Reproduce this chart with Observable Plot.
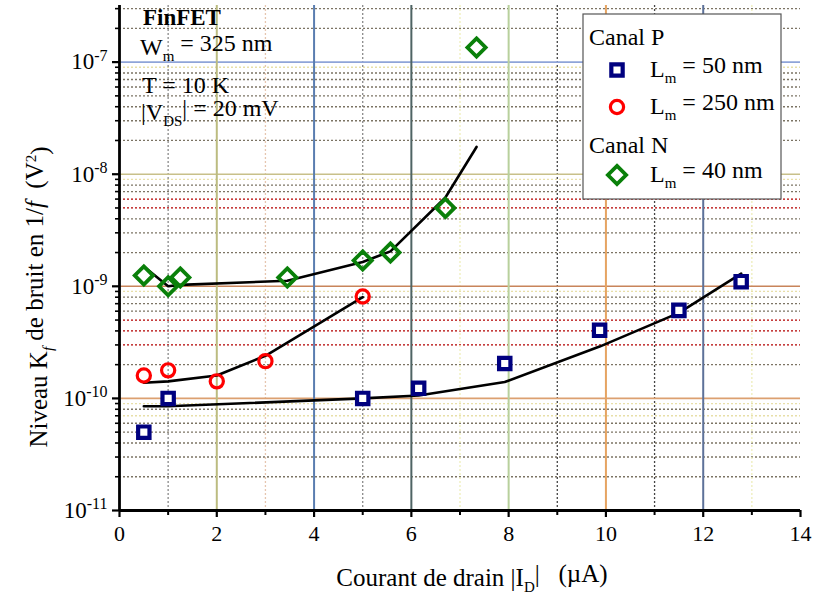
<!DOCTYPE html>
<html><head><meta charset="utf-8">
<script src="https://cdn.jsdelivr.net/npm/d3@7"></script>
<script src="https://cdn.jsdelivr.net/npm/@observablehq/plot@0.6"></script>
<style>
body{margin:0;background:#fff;}
#chart{position:relative;width:816px;height:605px;}
svg text{font-family:"Liberation Serif","Times New Roman",serif;}
</style></head><body><div id="chart"></div>
<script>
// ---- data ----
const xP50   = [0.5, 1.0, 5.0, 6.15, 7.92, 9.87, 11.5, 12.78];
const kP50   = [5.0e-11, 1.0e-10, 1.0e-10, 1.23e-10, 2.05e-10, 4.05e-10, 6.1e-10, 1.1e-9];
const fitP50 = [8.5e-11, 8.5e-11, 1.0e-10, 1.06e-10, 1.4e-10, 2.9e-10, 5.8e-10, 1.3e-9];

const xP250   = [0.5, 1.0, 2.0, 3.0, 5.0];
const kP250   = [1.6e-10, 1.78e-10, 1.42e-10, 2.15e-10, 8.1e-10];
const fitP250 = [1.38e-10, 1.42e-10, 1.6e-10, 2.4e-10, 8.0e-10];

const xN40   = [0.5, 1.0, 1.25, 3.45, 5.0, 5.57, 6.7, 7.34];
const kN40   = [1.25e-9, 1.0e-9, 1.2e-9, 1.2e-9, 1.7e-9, 2.0e-9, 5.0e-9, 1.35e-7];
const fitN40 = [1.5e-9, 1.0e-9, 1.03e-9, 1.12e-9, 1.65e-9, 2.05e-9, 6.2e-9, 1.75e-8];

const xTicks = [0, 2, 4, 6, 8, 10, 12, 14];
const xMinor = [1, 3, 5, 7, 9, 11, 13];
const yTicks = [1e-11, 1e-10, 1e-9, 1e-8, 1e-7];
const yDecades = [-11, -10, -9, -8, -7];
const mantissas = [2, 3, 4, 5, 6, 7, 8, 9];
const xGrid = [2, 4, 6, 8, 10, 12];
const yGrid = [1e-10, 1e-9, 1e-8, 1e-7];

const legendLabels = ["Canal P", "50 nm", "250 nm", "Canal N", "40 nm"];

// ---- derived tables ----
const yTop = 3.2e-7;
const yMinor = yDecades.flatMap(k => mantissas.map(m => +(m + "e" + k))).filter(v => v < yTop);
const rows = (xs, ks) => xs.map((x, i) => ({x, k: ks[i]}));
const p50 = rows(xP50, kP50), p50f = rows(xP50, fitP50);
const p250 = rows(xP250, kP250), p250f = rows(xP250, fitP250);
const n40 = rows(xN40, kN40), n40f = rows(xN40, fitN40);

// ---- styles ----
const xGridColor = {2:"#bcbc80", 4:"#5a7db0", 6:"#4f6464", 8:"#b8d09c", 10:"#e6a462", 12:"#5d7199"};
const yGridColor = {"-10":"#dca070", "-9":"#c8845a", "-8":"#c8c08a", "-7":"#8fa4d8"};
const xMinorColor = {1:"#8a8a8a", 3:"#e6c6b0", 5:"#8a8a8a", 7:"#eeeebb", 9:"#444", 11:"#444", 13:"#eeeebb"};
function minorStroke(v){
  const k = Math.floor(Math.log10(v) + 1e-9), m = Math.round(v / Math.pow(10, k));
  if (k === -10 && m >= 3 && m <= 5) return "#b40000";
  if (k === -9 && (m === 5 || m === 6)) return "#b40000";
  if (m === 9 || (k === -11 && m === 7)) return "#e8dfa8";
  return "#7c7464";
}
const NAVY = "#00007f", RED = "#ff0000", GREEN = "#0a800a";

const chart = Plot.plot({
  width: 816, height: 605,
  marginLeft: 119, marginRight: 16, marginTop: 5, marginBottom: 95,
  x: {domain: [0, 14], label: null},
  y: {type: "log", domain: [1e-11, yTop], label: null},
  color: {type: "identity"},
  style: {fontFamily: "Liberation Serif, Times New Roman, serif", fontSize: "22px", color: "#000", background: "#fff", overflow: "visible"},
  marks: [
    Plot.ruleY(yMinor, {stroke: d => minorStroke(d), strokeDasharray: "2,2", strokeWidth: 1.3}),
    Plot.ruleX(xMinor, {stroke: d => xMinorColor[d], strokeDasharray: "2,2", strokeWidth: 1.3}),
    Plot.ruleY(yGrid, {stroke: d => yGridColor[Math.round(Math.log10(d))], strokeWidth: 1.6}),
    Plot.ruleX(xGrid, {stroke: d => xGridColor[d], strokeWidth: 2}),
    Plot.line(p50f, {x: "x", y: "k", stroke: "#000", strokeWidth: 2.6}),
    Plot.line(p250f, {x: "x", y: "k", stroke: "#000", strokeWidth: 2.6}),
    Plot.line(n40f, {x: "x", y: "k", stroke: "#000", strokeWidth: 2.6}),
    Plot.dot(p50, {x: "x", y: "k", symbol: "square", r: 6.4, stroke: NAVY, strokeWidth: 4.2, fill: "#fff"}),
    Plot.dot(p250, {x: "x", y: "k", symbol: "circle", r: 6.6, stroke: RED, strokeWidth: 3.2, fill: "none"}),
    Plot.dot(n40, {x: "x", y: "k", symbol: "diamond2", r: 8.2, stroke: GREEN, strokeWidth: 3.8, fill: "none"}),
    Plot.ruleY([1e-11], {stroke: "#000", strokeWidth: 2.8}),
    Plot.ruleX([0], {stroke: "#000", strokeWidth: 2.8}),
    Plot.axisX(xTicks, {tickSize: 7, tickPadding: 8, strokeWidth: 2.2, fontSize: 22, label: null}),
    Plot.axisX(xMinor, {tickSize: 5, strokeWidth: 2, tickFormat: () => "", label: null}),
    Plot.axisY(yTicks, {tickSize: 7, tickPadding: 5, strokeWidth: 2.2, fontSize: 23, label: null,
      tickFormat: d => String(Math.round(Math.log10(d)))}),
    Plot.axisY(yMinor, {tickSize: 4, strokeWidth: 1.6, tickFormat: () => "", label: null})
  ]
});
document.getElementById("chart").appendChild(chart);

const svg = d3.select(chart);
// superscript exponents on y tick labels
svg.selectAll('g[aria-label="y-axis tick label"] text').each(function(){
  const t = d3.select(this); const e = t.text();
  if (!e) return;
  t.text("");
  t.append("tspan").text("10");
  t.append("tspan").attr("dy", "-0.55em").attr("font-size", "16px").text(e);
});

function addText(parent, x, y, parts, opts = {}){
  const t = parent.append("text").attr("x", x).attr("y", y)
    .attr("font-size", opts.size || 23).attr("fill", "#000")
    .attr("text-anchor", opts.anchor || "start")
    .style("white-space", "pre");
  if (opts.transform) t.attr("transform", opts.transform);
  if (opts.weight) t.attr("font-weight", opts.weight);
  let shift = 0;
  for (const p of parts){
    const s = t.append("tspan").text(p.t);
    const target = p.sub ? 0.4 : p.sup ? -0.45 : 0;
    if (target !== shift){ s.attr("dy", (target - shift) + "em"); }
    shift = target;
    if (p.sub || p.sup) s.attr("font-size", p.fs || "15px");
    if (p.it) s.attr("font-style", "italic");
  }
  return t;
}

// axis titles
addText(svg, 0, 0, [
  {t: "Niveau K"}, {t: "f", sub: true, it: true}, {t: " de bruit en 1/"}, {t: "f", it: true},
  {t: "  (V"}, {t: "2", sup: true}, {t: ")"}
], {size: 25, anchor: "middle", transform: "translate(47,297) rotate(-90)"});

addText(svg, 472, 586, [
  {t: "Courant de drain |I"}, {t: "D", sub: true}, {t: "|   (\u00b5A)"}
], {size: 25, anchor: "middle"});

// annotation
addText(svg, 143, 25, [{t: "FinFET"}], {size: 23, weight: "bold"});
addText(svg, 140, 55, [{t: "W"}, {t: "m", sub: true}, {t: " = 325 nm"}], {size: 24});
addText(svg, 142, 93, [{t: "T = 10 K"}], {size: 24});
addText(svg, 141, 120, [{t: "|V"}, {t: "DS", sub: true}, {t: "| = 20 mV"}], {size: 24});

// legend
const lg = svg.append("g");
lg.append("rect").attr("x", 583).attr("y", 14).attr("width", 198).attr("height", 185)
  .attr("fill", "#fff").attr("stroke", "#555").attr("stroke-width", 1.2);
addText(lg, 589, 45, [{t: legendLabels[0]}], {size: 24});
addText(lg, 589, 153, [{t: legendLabels[3]}], {size: 24});
const legendRows = [
  {y: 70, sym: d3.symbolSquare, r: 6.4, stroke: NAVY, sw: 4.2, fill: "#fff", lab: legendLabels[1]},
  {y: 107, sym: d3.symbolCircle, r: 6.6, stroke: RED, sw: 3.2, fill: "none", lab: legendLabels[2]},
  {y: 175, sym: d3.symbolDiamond2, r: 8.2, stroke: GREEN, sw: 3.8, fill: "none", lab: legendLabels[4]}
];
for (const r of legendRows){
  lg.append("path").attr("transform", `translate(617,${r.y})`)
    .attr("d", d3.symbol(r.sym, Math.PI * r.r * r.r)())
    .attr("stroke", r.stroke).attr("stroke-width", r.sw).attr("fill", r.fill);
  addText(lg, 650, r.y + 7, [{t: "L"}, {t: "m", sub: true}, {t: " = " + r.lab}], {size: 24});
}
</script></body></html>
